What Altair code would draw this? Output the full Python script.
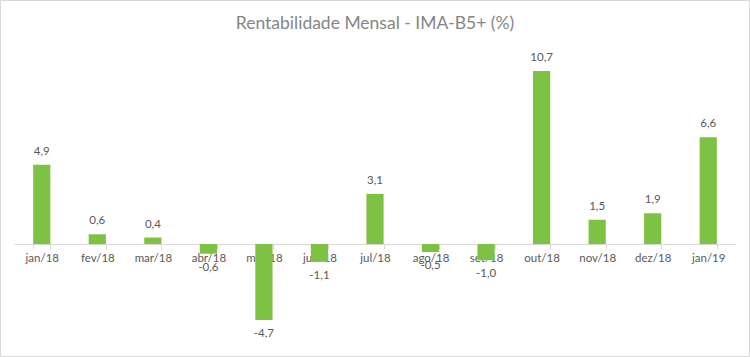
import altair as alt
import pandas as pd

months = ["jan/18", "fev/18", "mar/18", "abr/18", "mai/18", "jun/18", "jul/18",
          "ago/18", "set/18", "out/18", "nov/18", "dez/18", "jan/19"]
values = [4.9, 0.6, 0.4, -0.6, -4.7, -1.1, 3.1, -0.5, -1.0, 10.7, 1.5, 1.9, 6.6]

df = pd.DataFrame({"mes": months, "v": values})

W, H = 722, 300
ydom = [-5.94, 12.62]
FONT = "Lato"
GRAY = "#595959"

x = alt.X("mes:N", sort=months, scale=alt.Scale(paddingInner=0.69, paddingOuter=0.345),
          axis=alt.Axis(title=None, offset=-96, domainColor="#d9d9d9", tickColor="#d9d9d9",
                        tickBand="extent", tickSize=5, labelAngle=0, labelColor=GRAY,
                        labelFont=FONT, labelFontSize=11.5, labelPadding=3))
y = alt.Y("v:Q", scale=alt.Scale(domain=ydom, nice=False, zero=False), axis=None)

base = alt.Chart(df).transform_calculate(
    lab="replace(replace(format(datum.v, '.1f'), '.', ','), '\u2212', '-')"
)

bars = base.mark_bar(color="#7DC242").encode(x=x, y=y, y2=alt.datum(0))

pos = base.transform_filter("datum.v >= 0").mark_text(
    baseline="bottom", dy=-8, font=FONT, fontSize=11.5, color=GRAY
).encode(x=alt.X("mes:N", sort=months), y="v:Q", text="lab:N")

neg = base.transform_filter("datum.v < 0").mark_text(
    baseline="top", dy=8, font=FONT, fontSize=11.5, color=GRAY
).encode(x=alt.X("mes:N", sort=months), y="v:Q", text="lab:N")

border = alt.Chart(pd.DataFrame({"a": [0]})).mark_rect(
    fill=None, stroke="#d9d9d9", strokeWidth=1
).encode(x=alt.value(-13.5), x2=alt.value(735.5), y=alt.value(-39.5), y2=alt.value(316.5))

chart = alt.layer(border, bars, pos, neg).properties(
    width=W, height=H,
    title=alt.TitleParams("Rentabilidade Mensal - IMA-B5+ (%)", font=FONT, fontSize=17.5,
                          fontWeight="normal", color="#868686", anchor="middle", offset=0,
                          dy=32, frame="group"),
    autosize=alt.AutoSizeParams(type="none"),
    padding={"left": 14, "top": 40, "right": 14, "bottom": 17},
).configure_view(stroke=None)

chart.save("out.html", embed_options={"renderer": "svg", "actions": False})
